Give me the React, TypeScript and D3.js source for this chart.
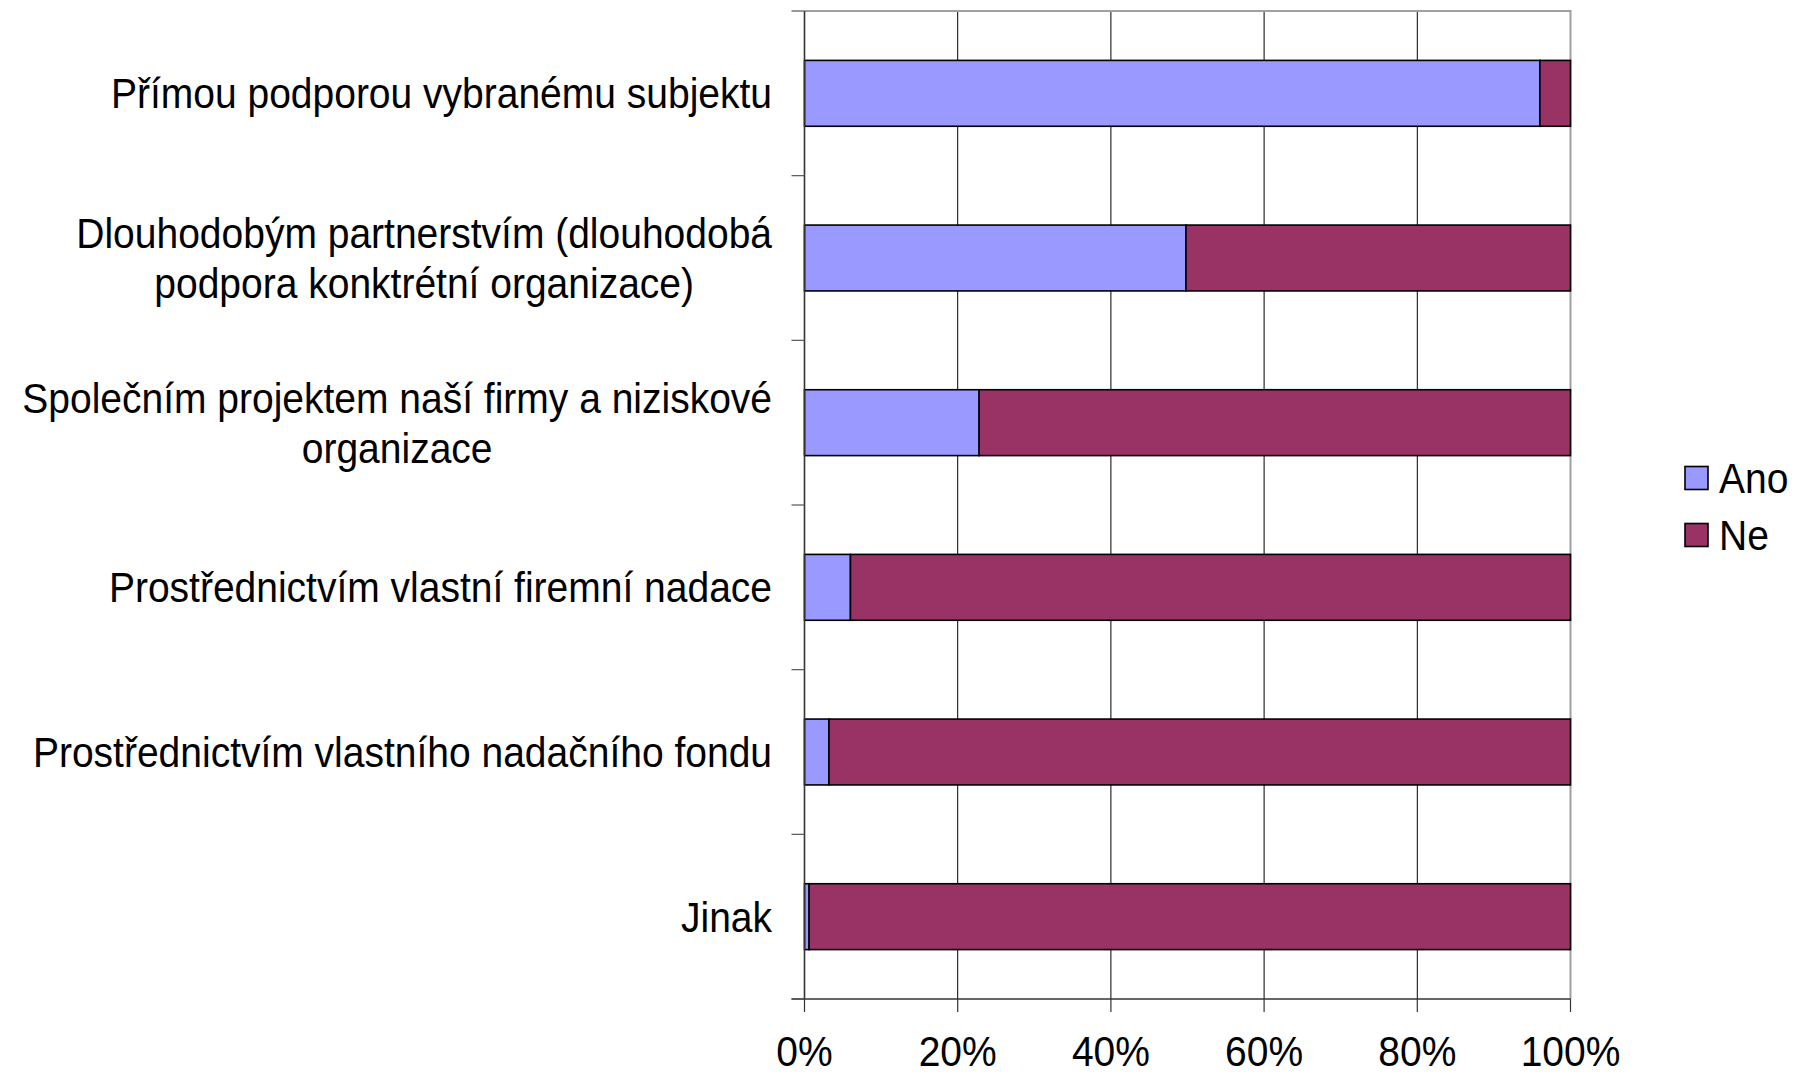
import React, { useEffect, useRef } from "react";
import * as d3 from "d3";

const categories: string[][] = [
  ["Přímou podporou vybranému subjektu"],
  ["Dlouhodobým partnerstvím (dlouhodobá", "podpora konktrétní organizace)"],
  ["Společním projektem naší firmy a niziskové", "organizace"],
  ["Prostřednictvím vlastní firemní nadace"],
  ["Prostřednictvím vlastního nadačního fondu"],
  ["Jinak"],
];
const anoValues: number[] = [96.0, 49.8, 22.8, 6.0, 3.2, 0.6];
const neValues: number[] = [4.0, 50.2, 77.2, 94.0, 96.8, 99.4];
const seriesNames: string[] = ["Ano", "Ne"];
const seriesColors: string[] = ["#9999FF", "#993366"];
const xTicks: number[] = [0, 20, 40, 60, 80, 100];

const W = 1794;
const H = 1078;
const FONT = "'Liberation Sans', Arial, sans-serif";
const FS = 39;
const SY = 1.09;

export default function App() {
  const ref = useRef<SVGSVGElement>(null);
  useEffect(() => {
    const svg = d3.select(ref.current!);
    svg.selectAll("*").remove();
    const left = 804.5, right = 1570.5, top = 11, bottom = 999;
    const x = d3.scaleLinear().domain([0, 100]).range([left, right]);
    const idx = categories.map((_, i) => String(i));
    const y = d3.scaleBand().domain(idx).range([top, bottom]).paddingInner(0.6).paddingOuter(0.3);
    const step = y.step();

    svg.append("rect").attr("width", W).attr("height", H).attr("fill", "#fff");

    // gridlines
    svg.append("g").selectAll("line").data(xTicks.slice(1, -1)).join("line")
      .attr("x1", d => x(d)).attr("x2", d => x(d)).attr("y1", top).attr("y2", bottom)
      .attr("stroke", "#000").attr("stroke-width", 1);

    // border top & right
    svg.append("path").attr("d", `M${left},${top}H${right}V${bottom}`)
      .attr("fill", "none").attr("stroke", "#a0a0a0").attr("stroke-width", 2);

    // bars
    const stackData = categories.map((_, i) => ({ i, vals: [anoValues[i], neValues[i]] }));
    const g = svg.append("g");
    stackData.forEach(d => {
      let acc = 0;
      d.vals.forEach((v, s) => {
        g.append("rect")
          .attr("x", x(acc)).attr("width", x(acc + v) - x(acc))
          .attr("y", y(String(d.i))!).attr("height", y.bandwidth())
          .attr("fill", seriesColors[s]).attr("stroke", "#000").attr("stroke-width", 1.6);
        acc += v;
      });
    });

    // axes
    svg.append("line").attr("x1", left).attr("x2", left).attr("y1", top).attr("y2", bottom)
      .attr("stroke", "#333").attr("stroke-width", 1.6);
    svg.append("line").attr("x1", left - 13).attr("x2", right).attr("y1", bottom).attr("y2", bottom)
      .attr("stroke", "#333").attr("stroke-width", 1.6);
    // y ticks
    svg.append("g").selectAll("line").data(d3.range(categories.length + 1)).join("line")
      .attr("x1", left - 13).attr("x2", left).attr("y1", d => top + d * step).attr("y2", d => top + d * step)
      .attr("stroke", "#555").attr("stroke-width", 1.2);
    // x ticks
    svg.append("g").selectAll("line").data(xTicks).join("line")
      .attr("x1", d => x(d)).attr("x2", d => x(d)).attr("y1", bottom).attr("y2", bottom + 13)
      .attr("stroke", "#333").attr("stroke-width", 1.2);

    const addText = (parent: any, tx: number, ty: number, txt: string, anchor: string) =>
      parent.append("text")
        .attr("transform", `translate(${tx},${ty}) scale(1,${SY})`)
        .attr("text-anchor", anchor)
        .attr("font-family", FONT).attr("font-size", FS).attr("fill", "#000")
        .text(txt);

    // x tick labels
    xTicks.forEach(t => addText(svg, x(t), 1066, `${t}%`, "middle"));

    // category labels
    const labelRight = 772;
    const lineGap = 50.3;
    categories.forEach((lines, i) => {
      const cy = y(String(i))! + y.bandwidth() / 2;
      const lg = svg.append("g");
      const n = lines.length;
      const nodes = lines.map((ln, k) => {
        const base = cy + 15 + (k - (n - 1) / 2) * lineGap;
        return addText(lg, 0, base, ln, "middle");
      });
      const widths = nodes.map((nd: any) => (nd.node() as SVGTextElement).getComputedTextLength());
      const maxW = Math.max(...widths);
      const cx = labelRight - maxW / 2;
      nodes.forEach((nd: any, k: number) => {
        const base = cy + 15 + (k - (n - 1) / 2) * lineGap;
        nd.attr("transform", `translate(${cx},${base}) scale(1,${SY})`);
      });
    });

    // legend
    const legY = [478, 535];
    seriesNames.forEach((nm, s) => {
      svg.append("rect").attr("x", 1685).attr("y", legY[s] - 11.5).attr("width", 23).attr("height", 23)
        .attr("fill", seriesColors[s]).attr("stroke", "#000").attr("stroke-width", 1.6);
      addText(svg, 1719, legY[s] + 15, nm, "start");
    });
  }, []);
  return (
    <svg ref={ref} width={W} height={H}
      style={{ position: "absolute", left: 0, top: 0, display: "block" }} />
  );
}
